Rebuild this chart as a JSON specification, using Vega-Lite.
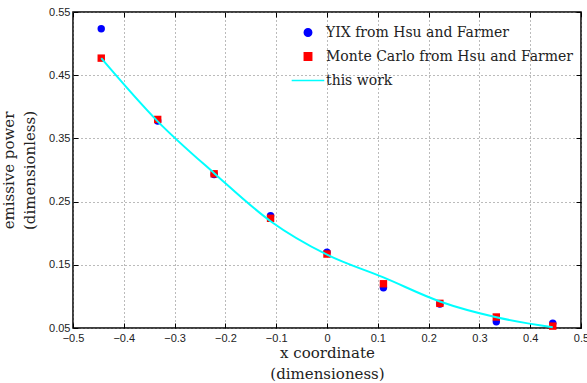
{
  "$schema": "https://vega.github.io/schema/vega-lite/v6.json",
  "width": 508,
  "height": 316,
  "autosize": {"type": "none"},
  "padding": {"left": 73, "top": 12, "right": 6, "bottom": 55},
  "background": "white",
  "config": {
    "view": {"stroke": "black", "strokeWidth": 1.5},
    "axis": {
      "labelFont": "Liberation Sans",
      "labelFontSize": 11,
      "labelColor": "#222",
      "titleFont": "DejaVu Serif",
      "titleFontSize": 15,
      "titleFontWeight": "normal",
      "titleColor": "#222",
      "domain": false,
      "tickColor": "black",
      "tickSize": -5,
      "grid": true,
      "gridColor": "#777",
      "gridDash": [1, 3],
      "gridOpacity": 1,
      "gridWidth": 1
    },
    "legend": {
      "labelFont": "DejaVu Serif",
      "labelFontSize": 14,
      "labelColor": "#222",
      "labelLimit": 400
    }
  },
  "resolve": {"axis": {"x": "independent", "y": "independent"}},
  "layer": [
    {
      "data": {
        "values": [
          {"x": -0.4444, "y": 0.5236, "series": "YIX from Hsu and Farmer"},
          {"x": -0.3333, "y": 0.3775, "series": "YIX from Hsu and Farmer"},
          {"x": -0.2222, "y": 0.293, "series": "YIX from Hsu and Farmer"},
          {"x": -0.1111, "y": 0.2277, "series": "YIX from Hsu and Farmer"},
          {"x": 0.0, "y": 0.170, "series": "YIX from Hsu and Farmer"},
          {"x": 0.1111, "y": 0.1138, "series": "YIX from Hsu and Farmer"},
          {"x": 0.2222, "y": 0.088, "series": "YIX from Hsu and Farmer"},
          {"x": 0.3333, "y": 0.060, "series": "YIX from Hsu and Farmer"},
          {"x": 0.4444, "y": 0.0574, "series": "YIX from Hsu and Farmer"},
          {"x": -0.4444, "y": 0.477, "series": "Monte Carlo from Hsu and Farmer"},
          {"x": -0.3333, "y": 0.380, "series": "Monte Carlo from Hsu and Farmer"},
          {"x": -0.2222, "y": 0.294, "series": "Monte Carlo from Hsu and Farmer"},
          {"x": -0.1111, "y": 0.2236, "series": "Monte Carlo from Hsu and Farmer"},
          {"x": 0.0, "y": 0.167, "series": "Monte Carlo from Hsu and Farmer"},
          {"x": 0.1111, "y": 0.120, "series": "Monte Carlo from Hsu and Farmer"},
          {"x": 0.2222, "y": 0.089, "series": "Monte Carlo from Hsu and Farmer"},
          {"x": 0.3333, "y": 0.0674, "series": "Monte Carlo from Hsu and Farmer"},
          {"x": 0.4444, "y": 0.053, "series": "Monte Carlo from Hsu and Farmer"}
        ]
      },
      "mark": {"type": "point", "filled": true, "opacity": 1, "size": 55},
      "encoding": {
        "x": {"field": "x", "type": "quantitative", "axis": null,
              "scale": {"domain": [-0.5, 0.5], "nice": false, "zero": false}},
        "y": {"field": "y", "type": "quantitative", "axis": null,
              "scale": {"domain": [0.05, 0.55], "nice": false, "zero": false}},
        "color": {"field": "series", "type": "nominal", "title": null,
                  "scale": {"domain": ["YIX from Hsu and Farmer", "Monte Carlo from Hsu and Farmer", "this work"],
                            "range": ["#0000ff", "#ff0000", "#00ffff"]}},
        "shape": {"field": "series", "type": "nominal", "title": null,
                  "scale": {"domain": ["YIX from Hsu and Farmer", "Monte Carlo from Hsu and Farmer", "this work"],
                            "range": ["circle", "square", "M-4.4,0H4.4"]},
                  "legend": {
                    "orient": "none",
                    "legendX": 228,
                    "legendY": 13.5,
                    "padding": 0,
                    "rowPadding": 10,
                    "symbolSize": 55,
                    "labelOffset": 11,
                    "encode": {
                      "symbols": {
                        "update": {
                          "stroke": {"signal": "datum.value === 'this work' ? '#00ffff' : datum.value === 'YIX from Hsu and Farmer' ? '#0000ff' : '#ff0000'"},
                          "strokeWidth": {"signal": "datum.value === 'this work' ? 2 : 0"}
                        }
                      }
                    }
                  }}
      }
    },
    {
      "data": {
        "values": [
          {"x": -0.4444, "y": 0.477, "series": "this work"},
          {"x": -0.3333, "y": 0.377, "series": "this work"},
          {"x": -0.2222, "y": 0.295, "series": "this work"},
          {"x": -0.1111, "y": 0.219, "series": "this work"},
          {"x": 0.0, "y": 0.166, "series": "this work"},
          {"x": 0.1111, "y": 0.130, "series": "this work"},
          {"x": 0.2222, "y": 0.092, "series": "this work"},
          {"x": 0.3333, "y": 0.067, "series": "this work"},
          {"x": 0.4444, "y": 0.051, "series": "this work"}
        ]
      },
      "mark": {"type": "line", "strokeWidth": 2, "interpolate": "monotone"},
      "encoding": {
        "x": {"field": "x", "type": "quantitative",
              "scale": {"domain": [-0.5, 0.5], "nice": false, "zero": false},
              "axis": {"orient": "bottom", "values": [-0.5, -0.4, -0.3, -0.2, -0.1, 0, 0.1, 0.2, 0.3, 0.4, 0.5],
                       "format": "~g", "labelPadding": 9, "labelFlush": false, "grid": true,
                       "title": ["x coordinate", "(dimensioness)"], "titlePadding": 2, "titleLineHeight": 21}},
        "y": {"field": "y", "type": "quantitative",
              "scale": {"domain": [0.05, 0.55], "nice": false, "zero": false},
              "axis": {"orient": "left", "values": [0.05, 0.15, 0.25, 0.35, 0.45, 0.55],
                       "format": ".2f", "labelPadding": 8, "labelFlush": false, "grid": true,
                       "title": ["emissive power", "(dimensionless)"], "titlePadding": 11, "titleLineHeight": 21}},
        "color": {"field": "series", "type": "nominal", "title": null}
      }
    },
    {
      "data": {"values": [{"x": 0, "y": 0.3}]},
      "mark": {"type": "point", "opacity": 0},
      "encoding": {
        "x": {"field": "x", "type": "quantitative",
              "scale": {"domain": [-0.5, 0.5], "nice": false, "zero": false},
              "axis": {"orient": "top", "values": [-0.5, -0.4, -0.3, -0.2, -0.1, 0, 0.1, 0.2, 0.3, 0.4, 0.5],
                       "labels": false, "grid": false, "title": null}},
        "y": {"field": "y", "type": "quantitative",
              "scale": {"domain": [0.05, 0.55], "nice": false, "zero": false},
              "axis": {"orient": "right", "values": [0.05, 0.15, 0.25, 0.35, 0.45, 0.55],
                       "labels": false, "grid": false, "title": null}}
      }
    }
  ]
}
